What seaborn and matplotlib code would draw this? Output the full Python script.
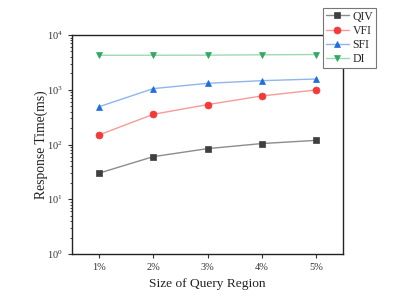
import pandas as pd
import seaborn as sns
import matplotlib.pyplot as plt
from matplotlib.ticker import LogLocator, NullFormatter

# data
regions = ['1%', '2%', '3%', '4%', '5%']
qiv = [30, 60, 84, 104, 119]
vfi = [150, 356, 535, 770, 990]
sfi = [490, 1050, 1310, 1465, 1570]
di = [4260, 4270, 4280, 4350, 4400]

series = [
    ('QIV', qiv, 's', '#8c8c8c', '#3f3f3f'),
    ('VFI', vfi, 'o', '#f79a9a', '#f23a3a'),
    ('SFI', sfi, '^', '#8fb5ee', '#1f6de0'),
    ('DI', di, 'v', '#9fd8b4', '#33a862'),
]

sns.set_style('ticks')
plt.rcParams['font.family'] = ['Liberation Serif', 'DejaVu Serif']
plt.rcParams['mathtext.fontset'] = 'custom'
plt.rcParams['mathtext.rm'] = 'Liberation Serif'

fig = plt.figure(figsize=(3.99, 3.05), dpi=100)
ax = fig.add_axes([72 / 399, 51 / 305, 271 / 399, 219 / 305])

for name, vals, mk, line_c, mark_c in series:
    df = pd.DataFrame({'region': regions, 'time': vals})
    sns.lineplot(data=df, x='region', y='time', ax=ax, label=name,
                 color=line_c, linewidth=1.0, marker=mk, markersize=5,
                 markerfacecolor=mark_c, markeredgecolor=mark_c,
                 markeredgewidth=0.5)

ax.set_yscale('log')
ax.set_ylim(1, 1e4)
ax.set_xlim(-0.5, 4.5)
ax.yaxis.set_major_locator(LogLocator(base=10, numticks=10))
ax.yaxis.set_minor_locator(LogLocator(base=10, subs=range(2, 10), numticks=10))
ax.yaxis.set_minor_formatter(NullFormatter())
ax.tick_params(axis='both', which='major', labelsize=7.5, length=3,
               width=0.8, color='#333333', labelcolor='#333333')
ax.tick_params(axis='y', which='minor', length=1.8, width=0.6)
for s in ax.spines.values():
    s.set_linewidth(1.0)
    s.set_color('#222222')

ax.set_xlabel('Size of Query Region', fontsize=9.6, color='#222222')
ax.set_ylabel('Response Time(ms)', fontsize=9.8, color='#222222', labelpad=-1)

handles, labels = ax.get_legend_handles_labels()
ax.get_legend().remove()
leg = fig.legend(handles, labels, loc='upper right',
                 bbox_to_anchor=(376 / 399, 1 - 8 / 305), fontsize=8.5,
                 frameon=True, fancybox=False, edgecolor='#777777',
                 framealpha=1, labelspacing=0.18, handlelength=2.0,
                 handletextpad=0.3, borderpad=0.22, borderaxespad=0)
leg.get_frame().set_linewidth(0.8)

fig.savefig('out.png', dpi=100)
